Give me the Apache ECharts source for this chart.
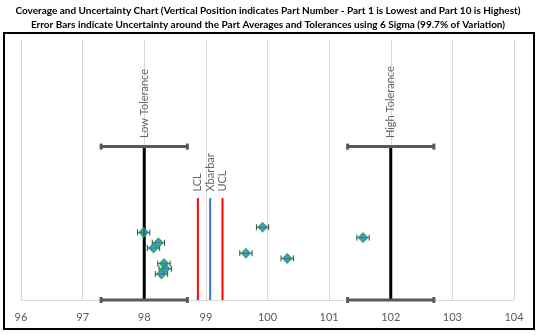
<!DOCTYPE html>
<html>
<head>
<meta charset="utf-8">
<script src="https://cdn.jsdelivr.net/npm/echarts@6/dist/echarts.min.js"></script>
<style>
  html, body { margin: 0; padding: 0; background: #fff; }
  #chart { width: 540px; height: 335px; }
</style>
</head>
<body>
<div id="chart"></div>
<script>
// Part averages (x) and their vertical positions (part 1 lowest, part 10 highest)
const partNumbers = [1, 2, 3, 4, 5, 6, 7, 8, 9, 10];
const partPositions = [5, 6, 7, 8, 9, 10, 11, 12, 13, 14];
const partAverages = [98.28, 98.34, 98.32, 100.32, 99.65, 98.15, 98.23, 101.55, 97.99, 99.92];
const partUncertainty = [0.1, 0.1, 0.1, 0.1, 0.1, 0.1, 0.1, 0.1, 0.1, 0.1];

// Tolerances with their uncertainty
const toleranceNames = ['Low Tolerance', 'High Tolerance'];
const toleranceValues = [98, 102];
const toleranceUncertainty = [0.7, 0.7];
const toleranceHeight = 29.5;

// Control limits
const limitNames = ['LCL', 'Xbarbar', 'UCL'];
const limitValues = [98.87, 99.07, 99.27];
const limitColors = ['#ff0000', '#4472c4', '#ff0000'];
const limitHeight = 19.6;

// X axis ticks
const xTicks = [96, 97, 98, 99, 100, 101, 102, 103, 104];

const FONT = 'Lato';

function errorBarItem(capHalf, lineWidth, color) {
  return function (params, api) {
    const y = api.value(1);
    const lo = api.coord([api.value(0) - api.value(2), y]);
    const hi = api.coord([api.value(0) + api.value(2), y]);
    const style = { stroke: color, lineWidth: lineWidth };
    return {
      type: 'group',
      children: [
        { type: 'line', shape: { x1: lo[0], y1: lo[1], x2: hi[0], y2: hi[1] }, style: style },
        { type: 'line', shape: { x1: lo[0], y1: lo[1] - capHalf, x2: lo[0], y2: lo[1] + capHalf }, style: style },
        { type: 'line', shape: { x1: hi[0], y1: hi[1] - capHalf, x2: hi[0], y2: hi[1] + capHalf }, style: style }
      ]
    };
  };
}

const series = [];

// Tolerance lines
toleranceNames.forEach(function (name, i) {
  series.push({
    name: name,
    type: 'line',
    symbol: 'none',
    silent: true,
    z: 2,
    lineStyle: { color: '#000000', width: 3 },
    data: [[toleranceValues[i], 0], [toleranceValues[i], toleranceHeight]]
  });
});

// Tolerance uncertainty bars at both ends
const tolBarData = [];
toleranceNames.forEach(function (name, i) {
  tolBarData.push([toleranceValues[i], 0, toleranceUncertainty[i]]);
  tolBarData.push([toleranceValues[i], toleranceHeight, toleranceUncertainty[i]]);
});
series.push({
  name: 'Tolerance Uncertainty',
  type: 'custom',
  z: 3,
  silent: true,
  renderItem: errorBarItem(3, 3, '#595959'),
  data: tolBarData
});

// Control limit lines
limitNames.forEach(function (name, i) {
  series.push({
    name: name,
    type: 'line',
    symbol: 'none',
    silent: true,
    z: 2,
    lineStyle: { color: limitColors[i], width: 2 },
    data: [[limitValues[i], 0], [limitValues[i], limitHeight]]
  });
});

// Vertical names above the tolerance and limit lines
function labelSeries(names, xs, top, distance) {
  return {
    type: 'scatter',
    silent: true,
    z: 6,
    symbolSize: 1,
    itemStyle: { color: 'rgba(0,0,0,0)' },
    label: {
      show: true,
      position: 'top',
      distance: distance,
      rotate: 90,
      align: 'left',
      verticalAlign: 'middle',
      formatter: function (p) { return names[p.dataIndex]; },
      fontFamily: FONT,
      fontSize: 11,
      color: '#404040'
    },
    data: xs.map(function (x) { return [x, top]; })
  };
}
series.push(labelSeries(toleranceNames, toleranceValues, toleranceHeight, 8));
series.push(labelSeries(limitNames, limitValues, limitHeight, 6));

// Part uncertainty bars
series.push({
  name: 'Part Uncertainty',
  type: 'custom',
  z: 4,
  silent: true,
  renderItem: errorBarItem(3, 1, '#404040'),
  data: partNumbers.map(function (n, i) {
    return [partAverages[i], partPositions[i], partUncertainty[i]];
  })
});

// Part averages
series.push({
  name: 'Part Average',
  type: 'scatter',
  z: 5,
  symbol: 'diamond',
  symbolSize: 9,
  itemStyle: { color: '#4472c4', borderColor: '#00b050', borderWidth: 1.5 },
  data: partNumbers.map(function (n, i) {
    return [partAverages[i], partPositions[i]];
  })
});

const chart = echarts.init(document.getElementById('chart'), null, { renderer: 'canvas' });
chart.setOption({
  animation: false,
  backgroundColor: '#ffffff',
  title: {
    text: 'Coverage and Uncertainty Chart (Vertical Position indicates Part Number - Part 1 is Lowest and Part 10 is Highest)\nError Bars indicate Uncertainty around the Part Averages and Tolerances using 6 Sigma (99.7% of Variation)',
    left: 263,
    textAlign: 'center',
    top: -1,
    textStyle: {
      fontFamily: FONT,
      fontWeight: 'bold',
      fontSize: 10,
      lineHeight: 14,
      color: '#000000'
    }
  },
  graphic: [{
    type: 'rect',
    shape: { x: 4, y: 33, width: 530, height: 296 },
    style: { fill: 'none', stroke: '#000000', lineWidth: 2 },
    silent: true
  }],
  grid: { left: 21, right: 26, top: 40, bottom: 35 },
  xAxis: {
    type: 'value',
    min: xTicks[0],
    max: xTicks[xTicks.length - 1],
    interval: 1,
    axisLine: { show: true, lineStyle: { color: '#d9d9d9', width: 1 } },
    axisTick: { show: false },
    axisLabel: { fontFamily: FONT, fontSize: 11, color: '#595959', margin: 12 },
    splitLine: { show: true, lineStyle: { color: '#d9d9d9', width: 1 } }
  },
  yAxis: {
    type: 'value',
    min: 0,
    max: 50,
    show: false,
    splitLine: { show: false }
  },
  series: series
});
</script>
</body>
</html>
